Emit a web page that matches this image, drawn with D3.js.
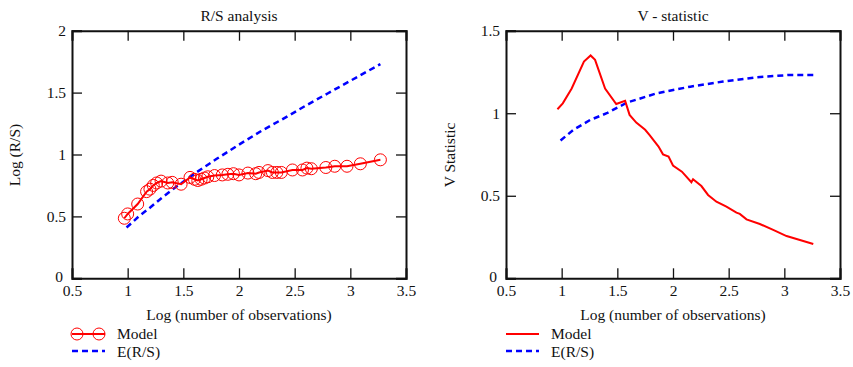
<!DOCTYPE html>
<html>
<head>
<meta charset="utf-8">
<script src="https://cdn.jsdelivr.net/npm/d3@7"></script>
<style>
  body { margin: 0; background: #fff; }
</style>
</head>
<body>
<script>
// log10 of observations for each model point, and the R/S values
var rsX = [0.97, 1.0, 1.09, 1.17, 1.2, 1.23, 1.26, 1.3, 1.36, 1.4, 1.48, 1.56, 1.6, 1.63, 1.66, 1.69, 1.72,
           1.78, 1.85, 1.9, 1.95, 2.0, 2.08, 2.15, 2.18, 2.26, 2.3, 2.34, 2.38, 2.48, 2.57, 2.61, 2.65,
           2.78, 2.86, 2.97, 3.09, 3.27];
var rsModel = [0.485, 0.52, 0.60, 0.70, 0.72, 0.75, 0.77, 0.785, 0.77, 0.775, 0.76, 0.815, 0.80, 0.79, 0.80,
               0.81, 0.82, 0.83, 0.835, 0.84, 0.845, 0.835, 0.85, 0.845, 0.855, 0.87, 0.855, 0.855, 0.855,
               0.875, 0.875, 0.89, 0.885, 0.895, 0.905, 0.905, 0.925, 0.957];

var expX = [0.99, 1.1, 1.2, 1.3, 1.4, 1.5, 1.6, 1.7, 1.8, 2.0, 2.2, 2.4, 2.6, 2.8, 3.0, 3.27];
var rsExpected = [0.41, 0.50, 0.57, 0.645, 0.715, 0.78, 0.845, 0.905, 0.965, 1.08, 1.19, 1.29, 1.395, 1.495, 1.595, 1.73];

var vX = [0.962, 1.01, 1.09, 1.2, 1.26, 1.3, 1.39, 1.49, 1.57, 1.61, 1.67, 1.75, 1.79, 1.87, 1.91, 1.96, 2.0,
          2.08, 2.165, 2.18, 2.255, 2.315, 2.39, 2.48, 2.57, 2.6, 2.66, 2.78, 2.9, 3.02, 3.14, 3.26];
var vModel = [1.024, 1.06, 1.15, 1.313, 1.35, 1.323, 1.15, 1.056, 1.075, 0.99, 0.943, 0.9, 0.868, 0.798, 0.751,
              0.737, 0.683, 0.646, 0.582, 0.60, 0.559, 0.505, 0.464, 0.434, 0.398, 0.39, 0.357, 0.329, 0.293,
              0.256, 0.232, 0.208];

var vExpX = [0.99, 1.105, 1.255, 1.405, 1.585, 1.855, 2.155, 2.45, 2.75, 3.05, 3.26];
var vExpected = [0.835, 0.899, 0.959, 1.0, 1.064, 1.121, 1.161, 1.192, 1.218, 1.232, 1.232];

var xTicks = [0.5, 1, 1.5, 2, 2.5, 3, 3.5];

var FONT = "'Liberation Serif', 'Times New Roman', Times, serif";
var width = 853, height = 367;
var svg = d3.select("body").append("svg")
    .attr("width", width)
    .attr("height", height);

function label(sel) {
    return sel.attr("font-family", FONT).style("font-family", FONT)
        .style("font-size", "15.5px").attr("fill", "#111");
}

function drawPanel(opt) {
    var x = d3.scaleLinear().domain([0.5, 3.5]).range([opt.left, opt.left + 334]);
    var y = d3.scaleLinear().domain([0, opt.yMax]).range([278.3, 30.7]);
    var g = svg.append("g");

    // frame ticks (inward, on all four sides)
    g.append("g").attr("class", "xb").attr("transform", "translate(0,278.3)")
        .call(d3.axisBottom(x).tickValues(xTicks).tickSize(-10).tickPadding(7).tickFormat(d3.format("")));
    g.append("g").attr("transform", "translate(0,30.7)")
        .call(d3.axisTop(x).tickValues(xTicks).tickSize(-10).tickFormat(""));
    g.append("g").attr("class", "yl").attr("transform", "translate(" + opt.left + ",0)")
        .call(d3.axisLeft(y).tickValues(opt.yTicks).tickSize(-10).tickPadding(6).tickFormat(d3.format("")));
    g.append("g").attr("transform", "translate(" + (opt.left + 334) + ",0)")
        .call(d3.axisRight(y).tickValues(opt.yTicks).tickSize(-10).tickFormat(""));
    g.selectAll(".domain").attr("stroke", "#111").attr("stroke-width", 2);
    g.selectAll(".tick line").attr("stroke", "#111").attr("stroke-width", 1.3);
    label(g.selectAll(".tick text"));
    // the 0 on the y axis sits a little low and left, clear of the x labels
    g.select(".yl").selectAll(".tick text").filter(d => d === 0)
        .attr("x", -9).attr("dy", "0.2em");

    // title and axis labels
    label(g.append("text").attr("x", opt.left + 167).attr("y", 21)
        .attr("text-anchor", "middle").text(opt.title));
    label(g.append("text").attr("x", opt.left + 167).attr("y", 320)
        .attr("text-anchor", "middle").text("Log (number of observations)"));
    label(g.append("text").attr("transform", "translate(" + opt.yLabelX + ",155) rotate(-90)")
        .attr("text-anchor", "middle").text(opt.yLabel));

    var line = d3.line().x(d => x(d[0])).y(d => y(d[1]));

    // expected value, blue dashed
    g.append("path")
        .datum(d3.zip(opt.expX, opt.expY))
        .attr("d", line)
        .attr("fill", "none").attr("stroke", "#0000ff")
        .attr("stroke-width", 2.5).attr("stroke-dasharray", "6,4");

    // model, red
    g.append("path")
        .datum(d3.zip(opt.modX, opt.modY))
        .attr("d", line)
        .attr("fill", "none").attr("stroke", "#ff0000").attr("stroke-width", 2);

    if (opt.markers) {
        g.selectAll("circle.m")
            .data(d3.zip(opt.modX, opt.modY))
            .enter().append("circle")
            .attr("class", "m")
            .attr("cx", d => x(d[0])).attr("cy", d => y(d[1])).attr("r", 6)
            .attr("fill", "none").attr("stroke", "#ff0000").attr("stroke-width", 1);
    }

    // legend
    var lx = opt.left, lg = g.append("g");
    lg.append("line").attr("x1", lx).attr("x2", lx + 33).attr("y1", 334).attr("y2", 334)
        .attr("stroke", "#ff0000").attr("stroke-width", 2);
    if (opt.markers) {
        [lx + 5, lx + 27].forEach(function(cx) {
            lg.append("circle").attr("cx", cx).attr("cy", 334).attr("r", 6)
                .attr("fill", "none").attr("stroke", "#ff0000").attr("stroke-width", 1);
        });
    }
    lg.append("line").attr("x1", lx).attr("x2", lx + 33).attr("y1", 351).attr("y2", 351)
        .attr("stroke", "#0000ff").attr("stroke-width", 2.5).attr("stroke-dasharray", "6,4");
    label(lg.append("text").attr("x", lx + 45).attr("y", 339).text("Model"));
    label(lg.append("text").attr("x", lx + 45).attr("y", 357).text("E(R/S)"));
}

drawPanel({
    left: 72, yMax: 2, yTicks: [0, 0.5, 1, 1.5, 2],
    title: "R/S analysis", yLabel: "Log (R/S)", yLabelX: 20,
    modX: rsX, modY: rsModel, expX: expX, expY: rsExpected, markers: true
});

drawPanel({
    left: 506, yMax: 1.5, yTicks: [0, 0.5, 1, 1.5],
    title: "V - statistic", yLabel: "V Statistic", yLabelX: 455,
    modX: vX, modY: vModel, expX: vExpX, expY: vExpected, markers: false
});
</script>
</body>
</html>
